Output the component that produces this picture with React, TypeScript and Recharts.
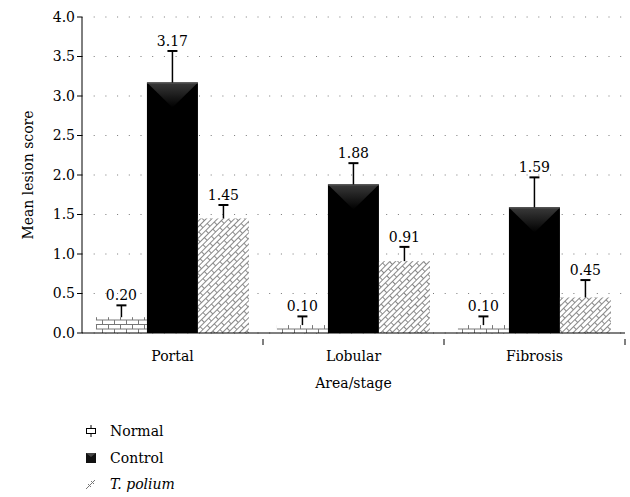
import { Bar, BarChart, CartesianGrid, XAxis, YAxis } from "recharts"

const categories = ["Portal", "Lobular", "Fibrosis"]
const normal = [0.2, 0.1, 0.1]
const control = [3.17, 1.88, 1.59]
const tPolium = [1.45, 0.91, 0.45]
const normalErr = [0.15, 0.11, 0.11]
const controlErr = [0.4, 0.27, 0.38]
const tPoliumErr = [0.17, 0.18, 0.22]
const yTicks = [0, 0.5, 1, 1.5, 2, 2.5, 3, 3.5, 4]

const data = categories.map((name, i) => ({
  name,
  normal: normal[i],
  control: control[i],
  tPolium: tPolium[i],
  normalErr: normalErr[i],
  controlErr: controlErr[i],
  tPoliumErr: tPoliumErr[i],
}))

const font = "DejaVu Serif"
const fs = 14

function makeShape(key: string, errKey: string, fill: string, triangle: boolean) {
  return (props: any) => {
    const { x, y, width, height, payload } = props
    const value = payload[key]
    const err = payload[errKey]
    const pxPerUnit = value ? height / value : 0
    const errTop = y - err * pxPerUnit
    const cx = x + width / 2
    return (
      <g>
        <rect x={x} y={y} width={width} height={height} fill={fill} />
        {triangle && (
          <polygon
            points={`${x},${y} ${x + width},${y} ${cx},${y + 25}`}
            fill="url(#ctrlGrad)"
          />
        )}
        {triangle && <line x1={x} x2={x + width} y1={y + 0.5} y2={y + 0.5} stroke="#555" />}
        <line x1={cx} x2={cx} y1={y} y2={errTop} stroke="#000" strokeWidth={1.5} />
        <line x1={cx - 5} x2={cx + 5} y1={errTop} y2={errTop} stroke="#000" strokeWidth={2} />
        <text
          x={cx}
          y={errTop - 5}
          textAnchor="middle"
          fontSize={fs}
          fontFamily={font}
          fill="#000"
        >
          {value.toFixed(2)}
        </text>
      </g>
    )
  }
}

function CategoryTick(props: any) {
  const { x, y, payload } = props
  const off = payload.offset ?? 0
  return (
    <g>
      <line x1={x + off} x2={x + off} y1={y - 2} y2={y + 4} stroke="#000" />
      <text x={x} y={y + 20} textAnchor="middle" fontSize={fs} fontFamily={font} fill="#000">
        {payload.value}
      </text>
    </g>
  )
}

function LegendIcon({ kind }: { kind: string }) {
  if (kind === "normal") {
    return (
      <svg width={12} height={12}>
        <rect x={1.5} y={3.5} width={9} height={5} fill="#fff" stroke="#000" />
        <line x1={6} x2={6} y1={0} y2={3.5} stroke="#000" />
        <line x1={6} x2={6} y1={8.5} y2={12} stroke="#000" />
      </svg>
    )
  }
  if (kind === "control") {
    return (
      <svg width={12} height={12}>
        <rect x={1} y={1} width={10} height={10} fill="#111" />
        <polygon points="1,1 11,1 6,5" fill="#444" />
      </svg>
    )
  }
  return (
    <svg width={12} height={12}>
      <line x1={1} y1={11} x2={10} y2={2} stroke="#777" />
      <line x1={3} y1={6} x2={6} y2={9} stroke="#777" />
      <line x1={6} y1={3} x2={9} y2={6} stroke="#777" />
    </svg>
  )
}

const legendItems = [
  { kind: "normal", label: "Normal", italic: false },
  { kind: "control", label: "Control", italic: false },
  { kind: "tpolium", label: "T. polium", italic: true },
]

export default function App() {
  return (
    <div style={{ position: "absolute", left: 0, top: 0, width: 630, height: 497, background: "#fff" }}>
      <BarChart
        width={630}
        height={400}
        data={data}
        margin={{ top: 17, right: 5, left: 0, bottom: 0 }}
        barCategoryGap="7.7%"
        barGap={0}
        style={{ fontFamily: font }}
      >
        <defs>
          <pattern id="brick" width={12} height={9} patternUnits="userSpaceOnUse">
            <rect width={12} height={9} fill="#fff" />
            <line x1={0} x2={12} y1={0.5} y2={0.5} stroke="#777" />
            <line x1={0} x2={12} y1={5} y2={5} stroke="#777" />
            <line x1={0.5} x2={0.5} y1={0} y2={5} stroke="#777" />
            <line x1={6.5} x2={6.5} y1={5} y2={9} stroke="#777" />
          </pattern>
          <pattern
            id="diagBrick"
            width={12}
            height={8}
            patternUnits="userSpaceOnUse"
            patternTransform="rotate(-45)"
          >
            <rect width={12} height={8} fill="#fff" />
            <line x1={0} x2={12} y1={0.5} y2={0.5} stroke="#888" />
            <line x1={0} x2={12} y1={4.5} y2={4.5} stroke="#888" />
            <line x1={0.5} x2={0.5} y1={0} y2={4.5} stroke="#888" />
            <line x1={6.5} x2={6.5} y1={4.5} y2={8} stroke="#888" />
          </pattern>
          <linearGradient id="ctrlGrad" x1="0" y1="0" x2="0" y2="1">
            <stop offset="0%" stopColor="#3a3a3a" />
            <stop offset="100%" stopColor="#000" />
          </linearGradient>
        </defs>
        <CartesianGrid
          vertical={false}
          stroke="#777"
          strokeDasharray="1 10.7"
        />
        <XAxis
          dataKey="name"
          axisLine={{ stroke: "#000" }}
          tickLine={false}
          tick={<CategoryTick />}
          height={67}
          label={{
            value: "Area/stage",
            position: "insideBottom",
            offset: 12,
            fontSize: fs,
            fontFamily: font,
            fill: "#000",
          }}
        />
        <YAxis
          domain={[0, 4]}
          ticks={yTicks}
          tickFormatter={(v: number) => v.toFixed(1)}
          width={82}
          axisLine={{ stroke: "#000" }}
          tickLine={{ stroke: "#000" }}
          tickSize={5}
          tickMargin={2}
          tick={{ fontSize: fs, fontFamily: font, fill: "#000" }}
          label={{
            value: "Mean lesion score",
            angle: -90,
            position: "insideLeft",
            offset: 28,
            style: { textAnchor: "middle" },
            fontSize: fs,
            fontFamily: font,
            fill: "#000",
          }}
        />
        <Bar dataKey="normal" isAnimationActive={false} shape={makeShape("normal", "normalErr", "url(#brick)", false)} />
        <Bar dataKey="control" isAnimationActive={false} shape={makeShape("control", "controlErr", "#000", true)} />
        <Bar dataKey="tPolium" isAnimationActive={false} shape={makeShape("tPolium", "tPoliumErr", "url(#diagBrick)", false)} />
      </BarChart>
      <div style={{ position: "absolute", left: 85, top: 418, fontFamily: font, fontSize: fs, color: "#000" }}>
        {legendItems.map((it) => (
          <div key={it.kind} style={{ display: "flex", alignItems: "center", height: 26.5 }}>
            <LegendIcon kind={it.kind} />
            <span style={{ marginLeft: 13, fontStyle: it.italic ? "italic" : "normal" }}>{it.label}</span>
          </div>
        ))}
      </div>
    </div>
  )
}
